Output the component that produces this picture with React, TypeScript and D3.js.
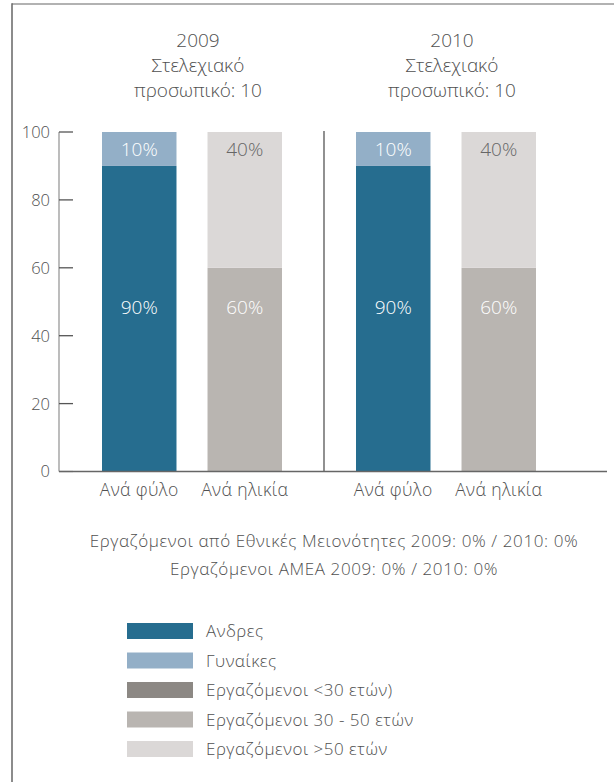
import React from "react";
import * as d3 from "d3";

const years = ["2009", "2010"];
const titleLine2 = "Στελεχιακό";
const titleLine3 = "προσωπικό: 10";
const barCategories = ["Ανά φύλο", "Ανά ηλικία"];
// stacked values per group: [bottom, top]
const genderValues = [90, 10]; // Ανδρες, Γυναίκες
const ageValues = [0, 60, 40]; // <30, 30-50, >50
const yTicks = [0, 20, 40, 60, 80, 100];
const notes = [
  "Εργαζόμενοι από Εθνικές Μειονότητες 2009: 0% / 2010: 0%",
  "Εργαζόμενοι ΑΜΕΑ 2009: 0% / 2010: 0%",
];
const legendLabels = [
  "Ανδρες",
  "Γυναίκες",
  "Εργαζόμενοι <30 ετών)",
  "Εργαζόμενοι 30 - 50 ετών",
  "Εργαζόμενοι >50 ετών",
];
const legendColors = ["#266d8f", "#93afc7", "#8c8884", "#b9b5b1", "#dbd8d7"];

const FONT = "'Open Sans', 'Liberation Sans', sans-serif";
const TXT = "#505050";

export default function App() {
  const y = d3.scaleLinear().domain([0, 100]).range([471.5, 132]);
  const groupX = d3.scaleBand<string>().domain(years).range([59, 567]).paddingInner(0).paddingOuter(0);
  const barX = (g: string) =>
    d3
      .scaleBand<string>()
      .domain(barCategories)
      .range([(groupX(g) as number) + 43, (groupX(g) as number) + 223])
      .paddingInner(0.294)
      .paddingOuter(0);

  const bars: any[] = [];
  const labels: any[] = [];
  years.forEach((g, gi) => {
    const bx = barX(g);
    const w = bx.bandwidth();
    let acc = 0;
    const gx = bx(barCategories[0]) as number;
    genderValues.forEach((v, i) => {
      bars.push(
        <rect key={`g${gi}${i}`} x={gx} width={w} y={y(acc + v)} height={y(acc) - y(acc + v)} fill={legendColors[i]} />
      );
      acc += v;
    });
    acc = 0;
    const ax = bx(barCategories[1]) as number;
    ageValues.forEach((v, i) => {
      if (v > 0)
        bars.push(
          <rect key={`a${gi}${i}`} x={ax} width={w} y={y(acc + v)} height={y(acc) - y(acc + v)} fill={legendColors[i + 2]} />
        );
      acc += v;
    });
    labels.push(
      <text key={`l1${gi}`} x={gx + w / 2} y={y(95)} dy="0.36em" textAnchor="middle" fill="#fff" fontSize={19}>{`${genderValues[1]}%`}</text>,
      <text key={`l2${gi}`} x={gx + w / 2} y={y(48.5)} dy="0.36em" textAnchor="middle" fill="#fff" fontSize={19}>{`${genderValues[0]}%`}</text>,
      <text key={`l3${gi}`} x={ax + w / 2} y={y(95)} dy="0.36em" textAnchor="middle" fill="#666" fontSize={19}>{`${ageValues[2]}%`}</text>,
      <text key={`l4${gi}`} x={ax + w / 2} y={y(48.5)} dy="0.36em" textAnchor="middle" fill="#fff" fontSize={19}>{`${ageValues[1]}%`}</text>
    );
    barCategories.forEach((c, ci) => {
      labels.push(
        <text key={`c${gi}${ci}`} x={(bx(c) as number) + w / 2} y={496} textAnchor="middle" fill={TXT} fontSize={17.5} letterSpacing={0.4}>{c}</text>
      );
    });
  });

  const titleCenters = years.map((g) => (groupX(g) as number) + 139);
  const legendY = d3.scalePoint<string>().domain(legendLabels).range([631, 749]);

  return (
    <svg width={614} height={782} style={{ position: "absolute", left: 0, top: 0 }} fontFamily={FONT} fontWeight={300}>
      <rect width={614} height={782} fill="#fff" />
      {/* frame */}
      <line x1={12} x2={614} y1={4} y2={4} stroke="#999" strokeWidth={1.5} />
      <line x1={12} x2={12} y1={3.3} y2={782} stroke="#666" strokeWidth={1.5} />

      {/* titles */}
      {years.map((g, i) => (
        <text key={g} x={titleCenters[i]} textAnchor="middle" fill={TXT} fontSize={19}>
          <tspan x={titleCenters[i]} y={47}>{g}</tspan>
          <tspan x={titleCenters[i]} y={72}>{titleLine2}</tspan>
          <tspan x={titleCenters[i]} y={97}>{titleLine3}</tspan>
        </text>
      ))}

      {/* y axis */}
      <line x1={59} x2={59} y1={y(100)} y2={y(0)} stroke="#999" strokeWidth={1.3} />
      {yTicks.map((t) => (
        <g key={t}>
          <line x1={59} x2={73} y1={y(t)} y2={y(t)} stroke={t === 0 ? "#aaa" : "#555"} strokeWidth={1.3} />
          <text x={50} y={y(t)} dy="0.36em" textAnchor="end" fill={TXT} fontSize={16.5}>{t}</text>
        </g>
      ))}

      {bars}

      {/* divider and baseline */}
      <line x1={324} x2={324} y1={131} y2={y(0)} stroke="#555" strokeWidth={1.3} />
      <line x1={59} x2={607} y1={y(0)} y2={y(0)} stroke="#666" strokeWidth={1.3} />

      {labels}

      {/* notes */}
      {notes.map((n, i) => (
        <text key={i} x={334} y={547 + i * 28} textAnchor="middle" fill={TXT} fontSize={17} letterSpacing={0.6}>{n}</text>
      ))}

      {/* legend */}
      {legendLabels.map((l, i) => (
        <g key={l} transform={`translate(0,${legendY(l)})`}>
          <rect x={127} y={-8} width={66} height={16} fill={legendColors[i]} />
          <text x={206} y={0} dy="0.36em" fill={TXT} fontSize={17} letterSpacing={0.5}>{l}</text>
        </g>
      ))}
    </svg>
  );
}
